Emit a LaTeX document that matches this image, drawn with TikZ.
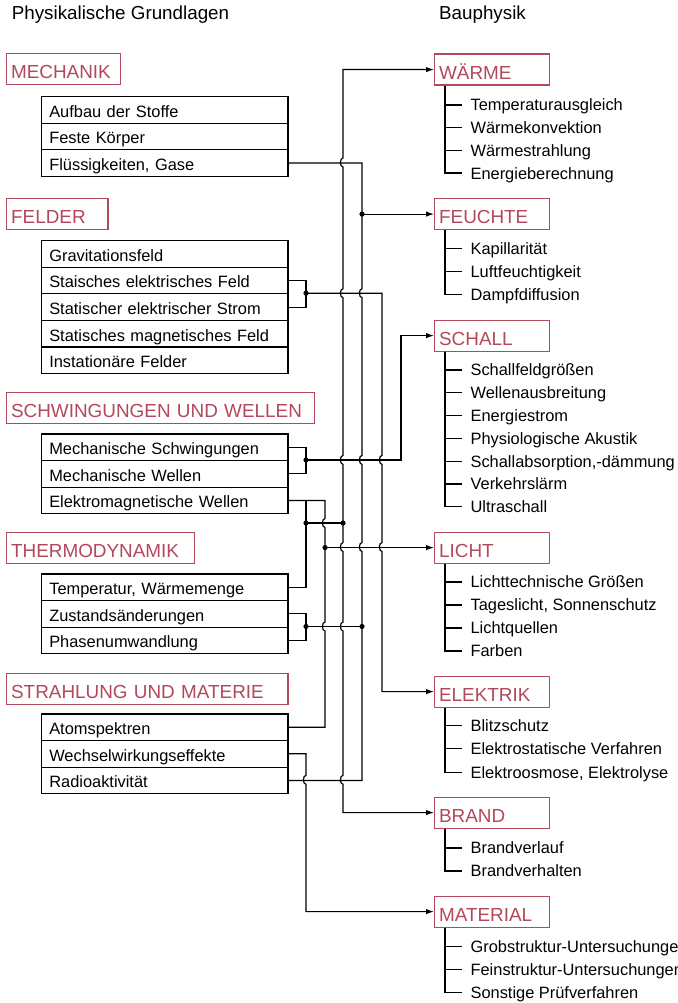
\documentclass[tikz,border=0pt]{standalone}
\usepackage{fontspec}
\setmainfont{Liberation Sans}
\usetikzlibrary{arrows.meta}
\definecolor{labc}{RGB}{178,72,92}
\newcommand\hopv[2]{-- (#1,#2-4.5) .. controls (#1-3.4,#2-4.5) and (#1-3.4,#2+4.5) .. (#1,#2+4.5)}
\newcommand\bauGroup[6]{%
  \node[labbox, text width=106pt] (#1) at (434,#3) {#2};
  \foreach \t [count=\i] in {#6} {%
    \node[itemtext] (#1-\i) at (470,{#4+(\i-1)*#5}) {\t};
    \draw ([xshift=11pt]#1.south west) |- ([xshift=-8pt]#1-\i.west);
  }%
}
\begin{document}
\begin{tikzpicture}[x=1pt,y=-1pt,line width=1.2pt,
  rowbox/.style={draw, anchor=north west, minimum height=26.6pt, text width=230.6pt,
    inner xsep=8pt, inner ysep=0pt, align=left, text height=14.6pt, text depth=0pt,
    font=\fontsize{16.4}{18}\selectfont},
  labbox/.style={draw=labc, text=labc, anchor=north west, minimum height=31pt,
    inner xsep=4.5pt, inner ysep=0pt, align=left, text height=19pt, text depth=0pt,
    font=\fontsize{18.9}{22}\selectfont},
  itemtext/.style={anchor=west, inner sep=0pt, text height=11.8pt, text depth=0pt,
    font=\fontsize{16.4}{18}\selectfont},
  titletext/.style={anchor=base west, inner sep=0pt, font=\fontsize{18.8}{22}\selectfont},
  arr/.style={-{Latex[length=8pt,width=5.5pt]}},
  dot/.style={fill=black}
]
\useasboundingbox (0,0) rectangle (677,1003);

% titles
\node[titletext] (tl) at (11.2,20) {Physikalische Grundlagen};
\node[titletext] (tr) at (438.5,20) {Bauphysik};

% trunk x positions
\coordinate (xE) at (306,0);
\coordinate (xF) at (325,0);
\coordinate (xA) at (343,0);
\coordinate (xB) at (362,0);
\coordinate (xC) at (382,0);
\coordinate (xD) at (401,0);

% left groups
\node[labbox, text width=105pt] (mechL) at (6,53.3) {MECHANIK};
\foreach \t [count=\i] in {Aufbau der Stoffe, Feste Körper, {Flüssigkeiten, Gase}}
  \node[rowbox] (mech-\i) at (40.7,{96+(\i-1)*26.6}) {\t};

\node[labbox, text width=92.3pt] (felL) at (6,197.5) {FELDER};
\foreach \t [count=\i] in {Gravitationsfeld, Staisches elektrisches Feld, Statischer elektrischer Strom, Statisches magnetisches Feld, Instationäre Felder}
  \node[rowbox] (fel-\i) at (40.7,{240+(\i-1)*26.6}) {\t};

\node[labbox, text width=299pt] (swL) at (6,391.7) {SCHWINGUNGEN UND WELLEN};
\foreach \t [count=\i] in {Mechanische Schwingungen, Mechanische Wellen, Elektromagnetische Wellen}
  \node[rowbox] (sw-\i) at (40.7,{433.3+(\i-1)*26.6}) {\t};

\node[labbox, text width=179pt] (thL) at (6,531.7) {THERMODYNAMIK};
\foreach \t [count=\i] in {{Temperatur, Wärmemenge}, Zustandsänderungen, Phasenumwandlung}
  \node[rowbox] (th-\i) at (40.7,{573.3+(\i-1)*26.6}) {\t};

\node[labbox, text width=272.3pt] (stL) at (6,672.7) {STRAHLUNG UND MATERIE};
\foreach \t [count=\i] in {Atomspektren, Wechselwirkungseffekte, Radioaktivität}
  \node[rowbox] (st-\i) at (40.7,{713.3+(\i-1)*26.6}) {\t};

% right groups
\bauGroup{warm}{WÄRME}{53.5}{105}{22.7}{Temperaturausgleich, Wärmekonvektion, Wärmestrahlung, Energieberechnung}
\bauGroup{feu}{FEUCHTE}{198}{248.5}{22.8}{Kapillarität, Luftfeuchtigkeit, Dampfdiffusion}
\bauGroup{sch}{SCHALL}{319.5}{370}{22.8}{Schallfeldgrößen, Wellenausbreitung, Energiestrom, Physiologische Akustik, {Schallabsorption,-dämmung}, Verkehrslärm, Ultraschall}
\bauGroup{lic}{LICHT}{531.5}{582}{23}{Lichttechnische Größen, {Tageslicht, Sonnenschutz}, Lichtquellen, Farben}
\bauGroup{ele}{ELEKTRIK}{675.5}{725.5}{23.3}{Blitzschutz, Elektrostatische Verfahren, {Elektroosmose, Elektrolyse}}
\bauGroup{bra}{BRAND}{796.5}{848}{23}{Brandverlauf, Brandverhalten}
\bauGroup{mat}{MATERIAL}{895.5}{946.5}{22.8}{Grobstruktur-Untersuchungen, Feinstruktur-Untersuchungen, Sonstige Prüfverfahren}

% junctions
\coordinate (jF) at (306,293.2);
\coordinate (jS) at (306,459.9);
\coordinate (jE) at (306,523);
\coordinate (jT) at (306,626.5);

% trunk A: WAERME <-> BRAND
\draw[{Latex[length=8pt,width=5.5pt]}-{Latex[length=8pt,width=5.5pt]}] (warm.west) -- (warm.west -| xA)
  \hopv{343}{162.5} \hopv{343}{293.2} \hopv{343}{459.9} \hopv{343}{547} \hopv{343}{626.5} \hopv{343}{779.8}
  -- (bra.west -| xA) -- (bra.west);

% trunk B: Fluessigkeiten ... Radioaktivitaet, FEUCHTE
\draw (mech-3.east) -- (mech-3.east -| xB)
  \hopv{362}{293.2} \hopv{362}{459.9} \hopv{362}{547}
  -- (st-3.east -| xB) -- (st-3.east);
\draw[arr] (feu.west -| xB) -- (feu.west);
\fill[dot] (feu.west -| xB) circle[radius=2.6pt];

% Felder -> ELEKTRIK
\draw (fel-2.east) -- (fel-2.east -| xE) -- (fel-3.east -| xE) -- (fel-3.east);
\draw[arr] (jF) -- (jF -| xC) \hopv{382}{459.9} \hopv{382}{547} -- (ele.west -| xC) -- (ele.west);
\fill[dot] (jF) circle[radius=2.6pt];

% Schwingungen -> SCHALL
\draw (sw-1.east) -- (sw-1.east -| xE) -- (sw-2.east -| xE) -- (sw-2.east);
\draw[arr] (jS) -- (jS -| xD) -- (sch.west -| xD) -- (sch.west);
\fill[dot] (jS) circle[radius=2.6pt];

% Elektromagnetische Wellen / Atomspektren -> LICHT
\draw (sw-3.east) -- (sw-3.east -| xF) \hopv{325}{523} \hopv{325}{626.5} -- (st-1.east -| xF) -- (st-1.east);
\draw (sw-3.east -| xE) -- (th-1.east -| xE) -- (th-1.east);
\draw (jE) -- (jE -| xA);
\fill[dot] (jE) circle[radius=2.6pt];
\fill[dot] (jE -| xA) circle[radius=2.6pt];
\draw[arr] (lic.west -| xF) -- (lic.west);
\fill[dot] (lic.west -| xF) circle[radius=2.6pt];

% Thermodynamik -> trunk B
\draw (th-2.east) -- (th-2.east -| xE) -- (th-3.east -| xE) -- (th-3.east);
\draw (jT) -- (jT -| xB);
\fill[dot] (jT) circle[radius=2.6pt];
\fill[dot] (jT -| xB) circle[radius=2.6pt];

% Wechselwirkungseffekte -> MATERIAL
\draw[arr] (st-2.east) -- (st-2.east -| xE) \hopv{306}{779.8} -- (mat.west -| xE) -- (mat.west);
\end{tikzpicture}
\end{document}
